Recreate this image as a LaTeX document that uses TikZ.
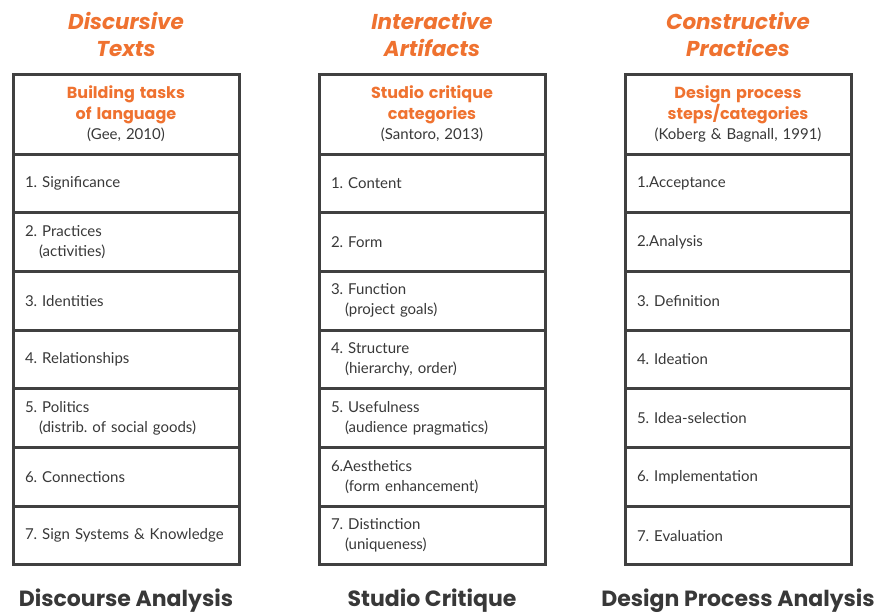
\documentclass[tikz,border=0pt]{standalone}
\usepackage{fontspec}
\setmainfont{Lato}
\newfontfamily\popp{Poppins}
\definecolor{orng}{HTML}{EF7230}
\definecolor{txt}{HTML}{383838}
\definecolor{brd}{HTML}{404040}
\tikzset{
  cell/.style={draw=brd, line width=3pt, minimum width=226pt, minimum height=58.7pt,
    anchor=north west, outer sep=0pt, inner sep=0pt, text width=202pt, inner xsep=12pt,
    align=left, font=\fontsize{15}{20}\selectfont, text=txt},
  head/.style={cell, minimum height=80pt, align=center, font=\fontsize{15}{20.5}\selectfont},
  toptitle/.style={font=\fontsize{21.5}{27}\selectfont\popp\bfseries\itshape, text=orng, align=center},
  bottitle/.style={font=\fontsize{22}{26}\selectfont\popp\bfseries, text=txt},
}
\newcommand{\ind}{\hspace*{14pt}}
\newcommand{\hd}[2]{{\fontsize{16}{20.5}\selectfont\popp\bfseries\color{orng}#1}\\#2}
\begin{document}
\frenchspacing
\begin{tikzpicture}[x=1pt,y=-1pt]
\useasboundingbox (0,0) rectangle (880,614);
% column titles
\node[toptitle] (t1) at (126,34) {Discursive\\Texts};
\node[toptitle] (t2) at (432,34) {Interactive\\Artifacts};
\node[toptitle] (t3) at (738,34) {Constructive\\Practices};
% column 1
\node[head] (a0) at (13,74) {\hd{Building tasks\\of language}{(Gee, 2010)}};
\node[cell] (a1) at (13,154.0) {1. Significance};
\node[cell] (a2) at (13,212.7) {2. Practices\\\ind(activities)};
\node[cell] (a3) at (13,271.4) {3. Identities};
\node[cell] (a4) at (13,330.1) {4. Relationships};
\node[cell] (a5) at (13,388.8) {5. Politics\\\ind(distrib. of social goods)};
\node[cell] (a6) at (13,447.5) {6. Connections};
\node[cell] (a7) at (13,506.2) {7. Sign Systems \& Knowledge};
% column 2
\node[head] (b0) at (319,74) {\hd{Studio critique\\categories}{(Santoro, 2013)}};
\node[cell] (b1) at (319,154.0) {1. Content};
\node[cell] (b2) at (319,212.7) {2. Form};
\node[cell] (b3) at (319,271.4) {3. Function\\\ind(project goals)};
\node[cell] (b4) at (319,330.1) {4. Structure\\\ind(hierarchy, order)};
\node[cell] (b5) at (319,388.8) {5. Usefulness\\\ind(audience pragmatics)};
\node[cell] (b6) at (319,447.5) {6.Aesthetics\\\ind(form enhancement)};
\node[cell] (b7) at (319,506.2) {7. Distinction\\\ind(uniqueness)};
% column 3
\node[head] (c0) at (625,74) {\hd{Design process\\steps/categories}{(Koberg \& Bagnall, 1991)}};
\node[cell] (c1) at (625,154.0) {1.Acceptance};
\node[cell] (c2) at (625,212.7) {2.Analysis};
\node[cell] (c3) at (625,271.4) {3. Definition};
\node[cell] (c4) at (625,330.1) {4. Ideation};
\node[cell] (c5) at (625,388.8) {5. Idea-selection};
\node[cell] (c6) at (625,447.5) {6. Implementation};
\node[cell] (c7) at (625,506.2) {7. Evaluation};
% bottom titles
\node[bottitle] (d1) at (126,601) {Discourse Analysis};
\node[bottitle] (d2) at (432,601) {Studio Critique};
\node[bottitle] (d3) at (738,601) {Design Process Analysis};
\end{tikzpicture}
\end{document}
